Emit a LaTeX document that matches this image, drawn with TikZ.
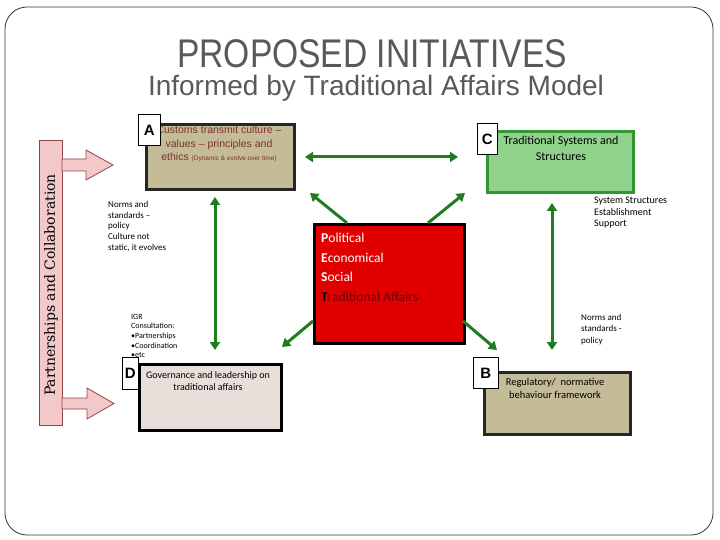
\documentclass[tikz,border=0pt]{standalone}
\usepackage{fontspec}
\setmainfont{Carlito}
\newfontfamily\titlefont[FakeStretch=0.84]{Liberation Sans}
\newfontfamily\arialfont[Ligatures=TeX]{Liberation Sans}
\newfontfamily\sidefont{DejaVu Serif}
\usetikzlibrary{arrows.meta}
\definecolor{ttl}{RGB}{89,89,89}
\definecolor{tan}{RGB}{196,188,150}
\definecolor{darkb}{RGB}{38,38,38}
\definecolor{lgreen}{RGB}{143,210,140}
\definecolor{mgreen}{RGB}{50,150,50}
\definecolor{arrg}{RGB}{30,125,30}
\definecolor{redbox}{RGB}{224,0,0}
\definecolor{dred}{RGB}{110,0,0}
\definecolor{brownred}{RGB}{128,48,48}
\definecolor{dpink}{RGB}{234,222,218}
\definecolor{pinkbar}{RGB}{242,200,200}
\definecolor{pinkedge}{RGB}{140,70,70}
\begin{document}
\begin{tikzpicture}[x=1pt,y=-1pt,
  boxA/.style={draw=darkb,line width=3pt,fill=tan,anchor=north west,inner sep=0pt},
  lbl/.style={draw=black,fill=white,line width=0.8pt,anchor=north west,inner sep=0pt,font=\arialfont\bfseries\fontsize{15}{15}\selectfont},
  garrow/.style={draw=arrg,line width=3pt,-{Triangle[length=8pt,width=10pt]}},
  gdarrow/.style={draw=arrg,line width=3pt,{Triangle[length=8pt,width=10pt]}-{Triangle[length=8pt,width=10pt]}},
  note/.style={anchor=north west,align=left,inner sep=0pt,font=\fontsize{9}{10.75}\selectfont},
  blockarr/.style={draw=pinkedge,fill=pinkbar,line width=0.8pt}
]
\useasboundingbox (0,0) rectangle (720,540);
% outer frame
\draw[ttl!60!black,line width=0.8pt,rounded corners=22pt] (5,7) rectangle (713,535);
% titles
\node[text=ttl,font=\titlefont\fontsize{40}{40}\selectfont] (title) at (372,54) {PROPOSED INITIATIVES};
\node[text=ttl,font=\arialfont\fontsize{28}{28}\selectfont] (sub) at (376,88) {Informed by Traditional Affairs Model};

% side bar
\node[draw=pinkedge,fill=pinkbar,line width=0.8pt,anchor=north west,minimum width=23pt,minimum height=285pt,inner sep=0pt] (bar) at (39,140) {};
\node[rotate=90,font=\sidefont\fontsize{14}{14}\selectfont] (bartext) at (51,285) {Partnerships and Collaboration};
% block arrows
\path[blockarr] (62,159) -- (86,159) -- (86,150) -- (113,165) -- (86,180) -- (86,171) -- (62,171) -- cycle;
\path[blockarr] (62,398) -- (87,398) -- (87,388) -- (114,403.5) -- (87,419) -- (87,409) -- (62,409) -- cycle;

% A box
\node[boxA,minimum width=148pt,minimum height=65pt] (A) at (145,123) {};
\node[anchor=north,align=center,text=brownred,font=\arialfont\fontsize{10.5}{13.5}\selectfont,inner sep=0pt] (Atext) at (219,126)
 {Customs transmit culture --\\ values -- principles and\\ ethics {\fontsize{6.5}{8}\selectfont (Dynamic \& evolve over time)}};
\node[lbl,minimum width=22pt,minimum height=31pt] (Alab) at (138,114) {A};

% C box
\node[draw=mgreen,line width=3pt,fill=lgreen,anchor=north west,minimum width=146pt,minimum height=61pt,inner sep=0pt] (C) at (486,130) {};
\node[align=center,font=\fontsize{12}{16}\selectfont,inner sep=0pt] (Ctext) at (561,148) {Traditional Systems and\\Structures};
\node[lbl,minimum width=20pt,minimum height=31pt] (Clab) at (477,123) {C};

% central red box
\node[draw=black,line width=3pt,fill=redbox,anchor=north west,minimum width=150pt,minimum height=119pt,inner sep=0pt] (R) at (313,223) {};
\node[anchor=north west,align=left,inner sep=0pt,font=\fontsize{13.5}{19.5}\selectfont,text=white] (Rtext) at (321,233)
 {\textbf{P}olitical\\ \textbf{E}conomical\\ \textbf{S}ocial\\ {\color{black}\textbf{T}}{\color{dred}raditional Affairs}};

% D box
\node[draw=black,line width=3pt,fill=dpink,anchor=north west,minimum width=142pt,minimum height=66pt,inner sep=0pt] (D) at (138,363) {};
\node[align=center,font=\fontsize{10}{12.5}\selectfont,inner sep=0pt] (Dtext) at (208,381) {Governance and leadership on\\traditional affairs};

% B box
\node[boxA,minimum width=146pt,minimum height=62pt] (B) at (483,371) {};
\node[align=center,font=\fontsize{10.5}{13}\selectfont,inner sep=0pt] (Btext) at (555,388) {Regulatory/\ \ normative\\behaviour framework};
\node[lbl,minimum width=25pt,minimum height=31pt] (Blab) at (473,357) {B};

% notes
\node[note] (n1) at (108,201) {Norms and\\standards --\\policy\\Culture not\\static, it evolves};
\node[note,font=\fontsize{10}{11.5}\selectfont] (n2) at (594,197) {System Structures\\Establishment\\Support};
\node[note,font=\fontsize{8}{9.6}\selectfont] (n3) at (131,314) {IGR\\Consultation:\\\textbullet Partnerships\\\textbullet Coordination\\\textbullet etc};
\node[note,font=\fontsize{9}{11.5}\selectfont] (n4) at (581,314) {Norms and\\standards -\\policy};
\node[lbl,minimum width=16pt,minimum height=32pt] (Dlab) at (122,357) {D};

% green arrow endpoints
\coordinate (ac1) at (305,157); \coordinate (ac2) at (458,157);
\coordinate (ra0) at (347,223); \coordinate (ra1) at (310,193);
\coordinate (rc0) at (428,223); \coordinate (rc1) at (465,193);
\coordinate (rd0) at (313,321); \coordinate (rd1) at (282,347);
\coordinate (rb0) at (463,321); \coordinate (rb1) at (497,350);
\coordinate (ad1) at (215,197); \coordinate (ad2) at (215,350);
\coordinate (cb1) at (552,203); \coordinate (cb2) at (552,350);
\draw[gdarrow] (ac1) -- (ac2);
\draw[garrow] (ra0) -- (ra1);
\draw[garrow] (rc0) -- (rc1);
\draw[garrow] (rd0) -- (rd1);
\draw[garrow] (rb0) -- (rb1);
\draw[gdarrow] (ad1) -- (ad2);
\draw[gdarrow] (cb1) -- (cb2);
\end{tikzpicture}
\end{document}
